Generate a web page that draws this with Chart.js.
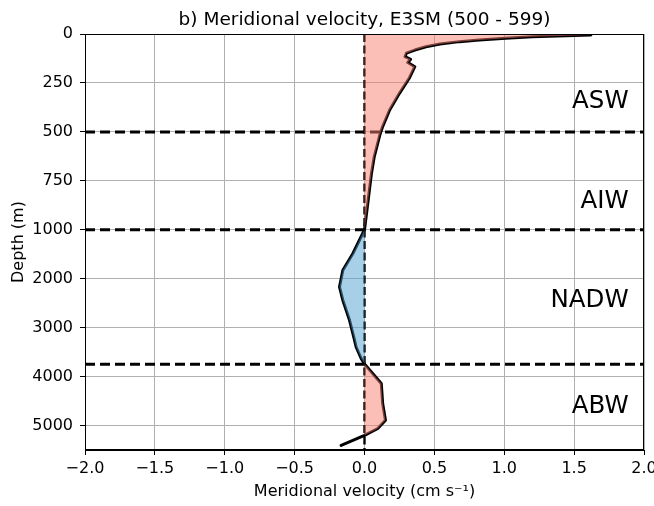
<!DOCTYPE html>
<html>
<head>
<meta charset="utf-8">
<script src="https://cdn.jsdelivr.net/npm/chart.js@4"></script>
<style>
  html, body { margin: 0; padding: 0; background: #fff; }
  #wrap { width: 654px; height: 506px; }
</style>
</head>
<body>
<div id="wrap"><canvas id="c" width="654" height="506"></canvas></div>
<script>
// ---- data ----
const depths = [5, 14, 22, 31, 39, 51, 65, 82, 98, 116, 129, 146, 167, 226, 303, 388, 473, 515, 626, 711, 862, 1000,
                1485, 1826, 2168, 2440, 2850, 3260, 3395, 3630, 3740, 3940, 4140, 4550, 4890, 5060, 5200, 5405];
const velocity = [1.62, 1.20, 1.01, 0.82, 0.68, 0.54, 0.44, 0.36, 0.30, 0.29, 0.33, 0.31, 0.36, 0.32, 0.25, 0.18, 0.13, 0.11, 0.07, 0.05, 0.024, 0.0,
                  -0.083, -0.155, -0.179, -0.155, -0.107, -0.071, -0.06, -0.024, 0.0, 0.06, 0.12, 0.13, 0.15, 0.095, 0.0, -0.167];
const boundaryDepths = [500, 1000, 3750];
const yTickDepths = [0, 250, 500, 750, 1000, 2000, 3000, 4000, 5000];
const yTickLabels = ['0', '250', '500', '750', '1000', '2000', '3000', '4000', '5000'];
const xTicks = [-2.0, -1.5, -1.0, -0.5, 0.0, 0.5, 1.0, 1.5, 2.0];
const regionLabels = ['ASW', 'AIW', 'NADW', 'ABW'];
const regionLabelDepths = [378, 890, 2583, 4750];
const regionLabelVelocity = 1.89;
const titleText = 'b) Meridional velocity, E3SM (500 - 599)';

// piecewise depth axis: 0-1000 m stretched (250 m per tick), below 1000 m 1000 m per tick
function depthToAxis(d) {
  return d <= 1000 ? d / 250 : 4 + (d - 1000) / 1000;
}
const maxDepth = 5500;

// fills mimic fill_betweenx(where=...) : a point fills only if a neighbour has the same sign
function sideFill(sign) {
  return velocity.map((v, i) => {
    const s = v * sign > 0;
    const prev = i > 0 && velocity[i - 1] * sign > 0;
    const next = i < velocity.length - 1 && velocity[i + 1] * sign > 0;
    return (s && (prev || next)) ? v : 0;
  });
}
const posFill = sideFill(1);
const negFill = sideFill(-1);

const toPts = arr => arr.map((v, i) => ({ x: v, y: depthToAxis(depths[i]) }));

const datasets = [
  { data: toPts(posFill), borderWidth: 0, pointRadius: 0, backgroundColor: 'rgba(250,128,114,0.5)', fill: { value: 0 } },
  { data: toPts(negFill), borderWidth: 0, pointRadius: 0, backgroundColor: 'rgba(80,160,208,0.5)', fill: { value: 0 } },
  { data: [{ x: 0, y: 0 }, { x: 0, y: depthToAxis(maxDepth) }], borderColor: '#000', borderWidth: 2.4, borderDash: [8, 3.5], pointRadius: 0, fill: false },
];
boundaryDepths.forEach(d => {
  datasets.push({ data: [{ x: xTicks[0], y: depthToAxis(d) }, { x: xTicks[xTicks.length - 1], y: depthToAxis(d) }],
    borderColor: '#000', borderWidth: 3, borderDash: [10, 5], pointRadius: 0, fill: false });
});
datasets.push({ data: toPts(velocity), borderColor: '#000', borderWidth: 3, pointRadius: 0, fill: false,
  borderJoinStyle: 'round', borderCapStyle: 'round' });

const FONT = "'DejaVu Sans', sans-serif";

const extras = {
  id: 'extras',
  afterDraw(chart) {
    const { ctx, chartArea: a, scales } = chart;
    ctx.save();
    ctx.strokeStyle = '#000';
    ctx.lineWidth = 1;
    ctx.strokeRect(a.left + 0.5, a.top + 0.5, a.right - a.left - 1, a.bottom - a.top - 1);
    ctx.fillStyle = '#000';
    ctx.font = '18.5px ' + FONT;
    ctx.textAlign = 'center';
    ctx.textBaseline = 'alphabetic';
    ctx.fillText(titleText, (a.left + a.right) / 2, 25);
    ctx.font = '24.5px ' + FONT;
    ctx.textAlign = 'right';
    regionLabels.forEach((t, i) => {
      ctx.fillText(t, scales.x.getPixelForValue(regionLabelVelocity), scales.y.getPixelForValue(depthToAxis(regionLabelDepths[i])));
    });
    ctx.restore();
  }
};

const yTickPos = yTickDepths.map(depthToAxis);

new Chart(document.getElementById('c'), {
  type: 'line',
  data: { datasets },
  options: {
    indexAxis: 'y',
    responsive: false,
    animation: false,
    layout: { padding: { top: 34, right: 10, left: 0, bottom: 0 } },
    plugins: { legend: { display: false }, tooltip: { enabled: false }, title: { display: false } },
    scales: {
      x: {
        type: 'linear', min: xTicks[0], max: xTicks[xTicks.length - 1],
        afterBuildTicks: s => { s.ticks = xTicks.map(v => ({ value: v })); },
        ticks: { color: '#000', font: { family: FONT, size: 16 }, padding: 4, maxRotation: 0,
          callback: v => (v < 0 ? '\u2212' : '') + Math.abs(v).toFixed(1) },
        grid: { color: '#b0b0b0', lineWidth: 1, tickLength: 5, tickColor: '#000' },
        border: { color: '#000', width: 1 },
        title: { display: true, text: 'Meridional velocity (cm s\u207B\u00B9)', color: '#000',
          font: { family: FONT, size: 16 }, padding: { top: 0, bottom: 5 } },
        afterFit: s => { s.height = 56; s.paddingLeft = 0; s.paddingRight = 0; }
      },
      y: {
        type: 'linear', reverse: true, min: 0, max: depthToAxis(maxDepth),
        afterBuildTicks: s => { s.ticks = yTickPos.map(v => ({ value: v })); },
        ticks: { color: '#000', font: { family: FONT, size: 16 }, padding: 7,
          callback: (v, i) => yTickLabels[i] },
        grid: { color: '#b0b0b0', lineWidth: 1, tickLength: 5, tickColor: '#000' },
        border: { color: '#000', width: 1 },
        title: { display: true, text: 'Depth (m)', color: '#000',
          font: { family: FONT, size: 16 }, padding: { top: 9, bottom: 0 } },
        afterFit: s => { s.width = 85; s.paddingTop = 0; s.paddingBottom = 0; }
      }
    }
  },
  plugins: [extras]
});
</script>
</body>
</html>
